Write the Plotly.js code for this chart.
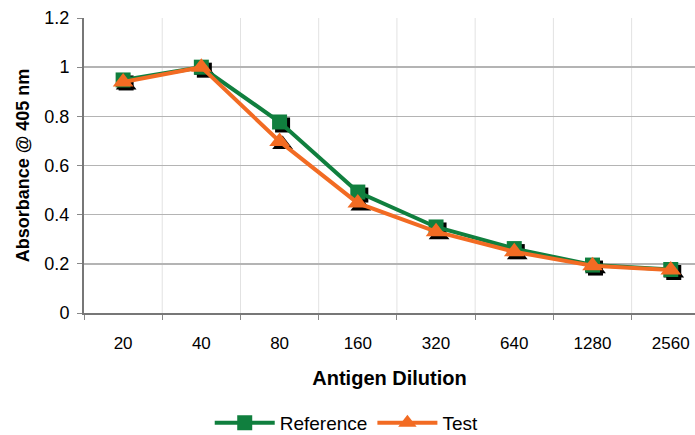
<!DOCTYPE html>
<html>
<head>
<meta charset="utf-8">
<script src="https://cdn.plot.ly/plotly-3.0.1.min.js"></script>
<style>html,body{margin:0;padding:0;background:#fff;}#chart{width:695px;height:435px;}</style>
</head>
<body>
<div id="chart"></div>
<script>
const categories = ["20", "40", "80", "160", "320", "640", "1280", "2560"];
const referenceValues = [0.948, 1.0, 0.777, 0.492, 0.350, 0.262, 0.195, 0.177];
const testValues = [0.940, 1.0, 0.698, 0.447, 0.331, 0.249, 0.192, 0.175];
const yTicks = [0, 0.2, 0.4, 0.6, 0.8, 1, 1.2];

const green = "#107f3e";
const orange = "#f26b23";
const font = "Liberation Sans, Arial, sans-serif";

const xRange = [-0.5, 7.31];
const yRange = [0, 1.2];
const plotW = 695 - 84, plotH = 435 - 18 - 122;
const dx = 3 * (xRange[1] - xRange[0]) / plotW;
const dy = 3 * (yRange[1] - yRange[0]) / plotH;

const traces = [
  {x: categories, y: referenceValues, xaxis: "x2", yaxis: "y2", mode: "markers", showlegend: false, hoverinfo: "skip",
   marker: {symbol: "square", size: 15, color: "#000"}},
  {x: categories, y: testValues, xaxis: "x2", yaxis: "y2", mode: "markers", showlegend: false, hoverinfo: "skip",
   marker: {symbol: "triangle-up", size: 18, color: "#000"}},
  {x: categories, y: referenceValues, xaxis: "x3", yaxis: "y3", name: "Reference", mode: "lines+markers",
   line: {color: green, width: 4}, marker: {symbol: "square", size: 15, color: green}},
  {x: categories, y: testValues, xaxis: "x3", yaxis: "y3", name: "Test", mode: "lines+markers",
   line: {color: orange, width: 4}, marker: {symbol: "triangle-up", size: 18, color: orange}}
];

const boundaryLines = categories.map((c, i) => ({type: "line", xref: "x", yref: "paper",
  x0: i + 0.5, x1: i + 0.5, y0: 0, y1: 1, line: {color: "#e2e2e2", width: 1}, layer: "below"}));

const layout = {
  width: 695, height: 435,
  margin: {l: 84, r: 0, t: 18, b: 122},
  paper_bgcolor: "#fff", plot_bgcolor: "#fff",
  font: {family: font, color: "#000", size: 17},
  xaxis: {type: "category", categoryarray: categories, range: xRange, automargin: false,
    showgrid: false, ticks: "outside", ticklen: 5, tickcolor: "#888", tickson: "boundaries",
    showline: true, linecolor: "#777", linewidth: 2, zeroline: false, ticklabelstandoff: 14,
    tickfont: {size: 17}, title: {text: "Antigen Dilution", font: {size: 20, weight: "bold"}, standoff: 19}},
  yaxis: {range: yRange, tickvals: yTicks, showgrid: true, gridcolor: "#b4b4b4", gridwidth: 1.5, automargin: false,
    ticks: "outside", ticklen: 5, tickcolor: "#888", showline: true, linecolor: "#777", linewidth: 2,
    zeroline: false, tickfont: {size: 18}, ticklabelstandoff: 4,
    title: {text: "Absorbance @ 405 nm", font: {size: 18, weight: "bold"}, standoff: 10}},
  xaxis2: {type: "category", categoryarray: categories, overlaying: "x", range: [xRange[0] - dx, xRange[1] - dx], visible: false},
  yaxis2: {overlaying: "y", range: [yRange[0] + dy, yRange[1] + dy], visible: false},
  xaxis3: {type: "category", categoryarray: categories, overlaying: "x", range: xRange, visible: false},
  yaxis3: {overlaying: "y", range: yRange, visible: false},
  legend: {orientation: "h", x: 0.43, xanchor: "center", yref: "container", y: 0.028, yanchor: "middle", font: {size: 19}, itemwidth: 60},
  shapes: boundaryLines
};

Plotly.newPlot("chart", traces, layout, {displayModeBar: false, staticPlot: true});
</script>
</body>
</html>
